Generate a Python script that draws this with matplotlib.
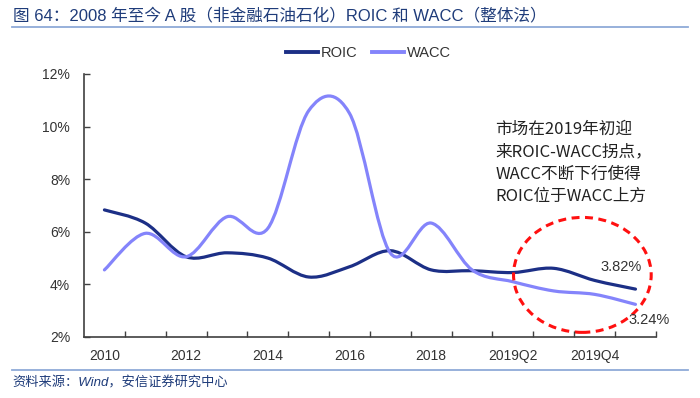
import numpy as np
import matplotlib
matplotlib.use("Agg")
import matplotlib.pyplot as plt
from matplotlib.path import Path
from matplotlib.patches import PathPatch, Ellipse
from matplotlib.lines import Line2D

plt.rcParams['font.family'] = ['Liberation Sans', 'Noto Sans CJK SC', 'DejaVu Sans']

# values (%)
periods = ["2010", "2011", "2012", "2013", "2014", "2015", "2016", "2017", "2018",
           "2019Q1", "2019Q2", "2019Q3", "2019Q4", "2020Q1"]
roic = [6.83, 6.33, 5.05, 5.20, 5.00, 4.28, 4.67, 5.28, 4.55, 4.52, 4.45, 4.61, 4.15, 3.82]
wacc = [4.55, 5.94, 5.05, 6.57, 6.13, 10.60, 10.50, 5.19, 6.33, 4.55, 4.10, 3.75, 3.62, 3.24]
shown_labels = ["2010", "2012", "2014", "2016", "2018", "2019Q2", "2019Q4"]

ROIC_COLOR = "#1c2f86"
WACC_COLOR = "#8484fb"
TITLE_COLOR = "#1f3c7a"
RULE_COLOR = "#8faad8"


def smooth_path(xs, ys):
    # excel-like smoothed line: cubic bezier through every point
    pts = np.column_stack([xs, ys]).astype(float)
    n = len(pts)
    verts = [pts[0]]
    codes = [Path.MOVETO]
    for i in range(n - 1):
        p0 = pts[i - 1] if i > 0 else pts[i]
        p1, p2 = pts[i], pts[i + 1]
        p3 = pts[i + 2] if i + 2 < n else pts[i + 1]
        c1 = p1 + (p2 - p0) / 6.0
        c2 = p2 - (p3 - p1) / 6.0
        verts += [c1, c2, p2]
        codes += [Path.CURVE4] * 3
    return Path(verts, codes)


fig = plt.figure(figsize=(7, 3.98), dpi=100)
ax = fig.add_axes([0.12, 0.1533, 0.817, 0.661])

x = np.arange(len(periods))
for vals, col in [(roic, ROIC_COLOR), (wacc, WACC_COLOR)]:
    ax.add_patch(PathPatch(smooth_path(x, vals), facecolor="none",
                           edgecolor=col, lw=2.3, capstyle="round", joinstyle="round"))

ax.set_xlim(-0.5, len(periods) - 0.5)
ax.set_ylim(2, 12)
ax.set_yticks(np.arange(2, 13, 2))
ax.set_yticklabels([f"{v}%" for v in range(2, 13, 2)])
ax.set_xticks([periods.index(p) for p in shown_labels])
ax.set_xticklabels(shown_labels)
ax.set_xticks(np.arange(len(periods)) + 0.5, minor=True)
ax.tick_params(axis="x", which="major", length=0, pad=9, labelsize=10, labelcolor="#333333")
ax.tick_params(axis="x", which="minor", direction="in", length=4, width=1, color="#404040")
ax.tick_params(axis="y", direction="in", length=4.5, width=1, color="#404040",
               pad=10, labelsize=10, labelcolor="#333333")
for s in ["top", "right"]:
    ax.spines[s].set_visible(False)
for s in ["left", "bottom"]:
    ax.spines[s].set_color("#404040")
    ax.spines[s].set_linewidth(1.2)

# red dashed circle around the latest quarters
ax.add_patch(Ellipse((11.7, 4.36), 3.37, 4.37, fill=False, edgecolor="#ff1010",
                     lw=2.2, linestyle=(0, (2.6, 1.8)), clip_on=False))

ax.text(12.65, 4.66, "3.82%", ha="center", va="center", fontsize=10.5, color="#333333")
ax.text(13.34, 2.65, "3.24%", ha="center", va="center", fontsize=10.5, color="#333333")

fig.text(0.708, 0.696,
         "市场在2019年初迎\n来ROIC-WACC拐点，\nWACC不断下行使得\nROIC位于WACC上方",
         ha="left", va="top", fontsize=12, color="#222222", linespacing=1.4,
         family=["Noto Sans CJK SC", "DejaVu Sans"])

handles = [Line2D([], [], color=ROIC_COLOR, lw=2.8), Line2D([], [], color=WACC_COLOR, lw=2.8)]
fig.legend(handles, ["ROIC", "WACC"], loc="center", bbox_to_anchor=(0.526, 0.867),
           ncol=2, frameon=False, fontsize=10.5, handlelength=2.2, handletextpad=0.2,
           columnspacing=1.0, labelcolor="#333333")

# report frame: title, rules, source
fig.text(0.018, 0.962, "图 64：2008 年至今 A 股（非金融石油石化）ROIC 和 WACC（整体法）",
         ha="left", va="center", fontsize=12, color=TITLE_COLOR)
fig.add_artist(Line2D([0.017, 0.983], [0.932, 0.932], color=RULE_COLOR, lw=1.3))
fig.add_artist(Line2D([0.017, 0.983], [0.070, 0.070], color=RULE_COLOR, lw=1.3))
fig.text(0.018, 0.038, "资料来源：Wind，安信证券研究中心", ha="left", va="center",
         fontsize=9.5, color=TITLE_COLOR, style="italic")

fig.savefig("out.png", dpi=100)
